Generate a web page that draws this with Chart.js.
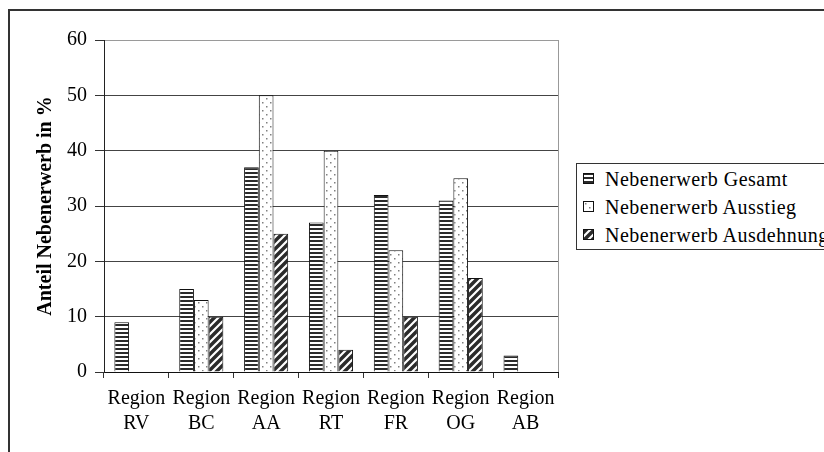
<!DOCTYPE html>
<html>
<head>
<meta charset="utf-8">
<script src="https://cdn.jsdelivr.net/npm/chart.js@4"></script>
<style>
  html, body { margin: 0; padding: 0; background: #fff; overflow: hidden; }
  #wrap { position: relative; width: 824px; height: 452px; }
  #frame { position: absolute; left: 8px; top: 9px; width: 900px; height: 500px;
           border-top: 2px solid #333; border-left: 2px solid #333; }
  #chart { position: absolute; left: 0; top: 0; }
  #legend { position: absolute; left: 576px; top: 163px; width: 300px; height: 85px;
            border: 1px solid #333; background: #fff;
            font-family: "Liberation Serif", "Times New Roman", serif; font-size: 20px;
            letter-spacing: 0.5px; color: #000; }
  .row { position: absolute; left: 6px; height: 28px; line-height: 28px; white-space: nowrap; }
  .row canvas { position: absolute; left: 0; top: 8px; }
  .row span { position: absolute; left: 22px; top: 0; }
</style>
</head>
<body>
<div id="wrap">
  <div id="frame"></div>
  <canvas id="chart" width="824" height="452"></canvas>
  <div id="legend"></div>
</div>
<script>
const regions = [['Region', 'RV'], ['Region', 'BC'], ['Region', 'AA'], ['Region', 'RT'],
                 ['Region', 'FR'], ['Region', 'OG'], ['Region', 'AB']];

const seriesNames = ['Nebenerwerb Gesamt', 'Nebenerwerb Ausstieg', 'Nebenerwerb Ausdehnung'];

const gesamt = [9, 15, 37, 27, 32, 31, 3];
const ausstieg = [0, 13, 50, 40, 22, 35, 0];
const ausdehnung = [0, 10, 25, 4, 10, 17, 0];

const yTicks = [0, 10, 20, 30, 40, 50, 60];

const FONT = '"Liberation Serif", "Times New Roman", serif';

// pattern tiles
function makeTile(kind) {
    const c = document.createElement('canvas');
    const g = c.getContext('2d');
    if (kind === 0) {
        c.width = 4; c.height = 4;
        g.fillStyle = '#fff'; g.fillRect(0, 0, 4, 4);
        g.fillStyle = '#2b2b2b'; g.fillRect(0, 0, 4, 2);
    } else if (kind === 1) {
        c.width = 8; c.height = 8;
        g.fillStyle = '#fff'; g.fillRect(0, 0, 8, 8);
        g.fillStyle = '#808080';
        g.fillRect(2, 2, 1.5, 1.5);
        g.fillRect(6, 6, 1.5, 1.5);
    } else {
        c.width = 8; c.height = 8;
        g.fillStyle = '#2b2b2b'; g.fillRect(0, 0, 8, 8);
        g.strokeStyle = '#fff'; g.lineWidth = 2.2;
        g.beginPath();
        g.moveTo(-4, 4); g.lineTo(4, -4);
        g.moveTo(0, 8); g.lineTo(8, 0);
        g.moveTo(4, 12); g.lineTo(12, 4);
        g.stroke();
    }
    return c;
}

const ctx = document.getElementById('chart').getContext('2d');
const patterns = [0, 1, 2].map(k => ctx.createPattern(makeTile(k), 'repeat'));

// legend with pattern swatches
const legend = document.getElementById('legend');
seriesNames.forEach((name, i) => {
    const row = document.createElement('div');
    row.className = 'row';
    row.style.top = (1 + i * 28) + 'px';
    const sw = document.createElement('canvas');
    sw.width = 11; sw.height = 11;
    const sg = sw.getContext('2d');
    sg.fillStyle = sg.createPattern(makeTile(i), 'repeat');
    sg.fillRect(0, 0, 11, 11);
    sg.strokeStyle = '#111'; sg.lineWidth = 1;
    sg.strokeRect(0.5, 0.5, 10, 10);
    const label = document.createElement('span');
    label.textContent = name;
    row.appendChild(sw);
    row.appendChild(label);
    legend.appendChild(row);
});

const rightBorder = {
    id: 'rightBorder',
    afterDraw(chart) {
        const a = chart.chartArea;
        const c = chart.ctx;
        c.save();
        c.strokeStyle = '#999';
        c.lineWidth = 1;
        c.beginPath();
        c.moveTo(Math.round(a.right) + 0.5, a.top);
        c.lineTo(Math.round(a.right) + 0.5, a.bottom);
        c.stroke();
        c.restore();
    }
};

const datasets = [gesamt, ausstieg, ausdehnung].map((vals, i) => ({
    label: seriesNames[i],
    data: vals,
    backgroundColor: patterns[i],
    borderColor: '#111',
    borderWidth: 1,
    borderSkipped: 'start',
    barPercentage: 1,
    categoryPercentage: 0.68
}));

const chart = new Chart(ctx, {
    type: 'bar',
    data: { labels: regions, datasets: datasets },
    options: {
        responsive: false,
        animation: false,
        devicePixelRatio: 1,
        layout: { padding: { left: 30, top: 40, right: 266, bottom: 0 } },
        plugins: { legend: { display: false }, tooltip: { enabled: false } },
        scales: {
            x: {
                grid: { drawOnChartArea: false, drawTicks: true, tickLength: 6, color: '#333', offset: true },
                border: { color: '#111', width: 1 },
                ticks: { font: { family: FONT, size: 20, lineHeight: 1.25 }, color: '#000',
                         padding: 8, maxRotation: 0, autoSkip: false },
                afterFit(s) { s.height = 80; }
            },
            y: {
                min: 0, max: 60,
                afterBuildTicks(s) { s.ticks = yTicks.map(v => ({ value: v })); },
                grid: {
                    color: c => (c.tick && c.tick.value === 60) ? '#9a9a9a' : '#444',
                    tickColor: '#333', tickLength: 9, drawTicks: true
                },
                border: { color: '#222', width: 1 },
                ticks: { font: { family: FONT, size: 20 }, color: '#000', padding: 8 },
                title: { display: true, text: 'Anteil Nebenerwerb in %', color: '#000',
                         font: { family: FONT, size: 20, weight: 'bold' }, padding: { top: 4, bottom: 4 } },
                afterFit(s) { s.width = 74; }
            }
        }
    },
    plugins: [rightBorder]
});
</script>
</body>
</html>
